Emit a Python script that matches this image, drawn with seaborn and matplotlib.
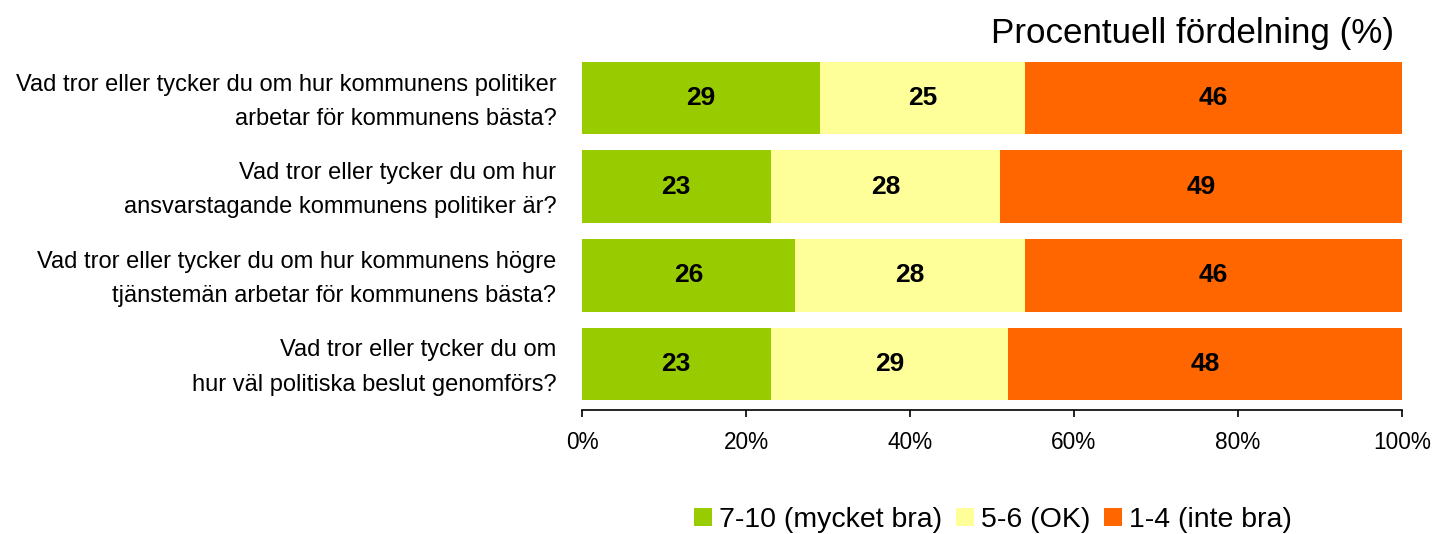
import matplotlib
matplotlib.use("Agg")
import matplotlib.pyplot as plt
from matplotlib.patches import Patch
from matplotlib.ticker import FuncFormatter
from matplotlib.transforms import ScaledTranslation
import seaborn as sns
import pandas as pd

sns.set_theme(style="white")
plt.rcParams["font.family"] = ["Liberation Sans", "DejaVu Sans"]
plt.rcParams["text.color"] = "black"

questions = [
    "Vad tror eller tycker du om hur kommunens politiker\narbetar för kommunens bästa?",
    "Vad tror eller tycker du om hur\nansvarstagande kommunens politiker är?",
    "Vad tror eller tycker du om hur kommunens högre\ntjänstemän arbetar för kommunens bästa?",
    "Vad tror eller tycker du om\nhur väl politiska beslut genomförs?",
]
series_names = ["7-10 (mycket bra)", "5-6 (OK)", "1-4 (inte bra)"]
very_good = [29, 23, 26, 23]
ok = [25, 28, 28, 29]
not_good = [46, 49, 46, 48]
colors = ["#99CC00", "#FFFF99", "#FF6600"]
x_ticks = [0, 20, 40, 60, 80, 100]
title = "Procentuell fördelning (%)"

df = pd.DataFrame({
    "question": questions,
    series_names[0]: very_good,
    series_names[1]: ok,
    series_names[2]: not_good,
})
# cumulative ends of each stacked segment
df["end0"] = df[series_names[0]]
df["end1"] = df["end0"] + df[series_names[1]]
df["end2"] = df["end1"] + df[series_names[2]]

W, H = 1436, 534
fig = plt.figure(figsize=(W / 100, H / 100), dpi=100)
ax = fig.add_axes([582 / W, (H - 410) / H, 820 / W, 358 / H])

# draw from the longest cumulative bar to the shortest so each segment shows
for end_col, color in zip(["end2", "end1", "end0"], colors[::-1]):
    sns.barplot(data=df, x=end_col, y="question", color=color, orient="h",
                width=0.82, saturation=1, linewidth=0, ax=ax, order=questions)

# segment value labels
starts = [0] * len(questions)
for name in series_names:
    for i, v in enumerate(df[name]):
        ax.text(starts[i] + v / 2, i, f"{v}", ha="center", va="center",
                fontsize=19, fontweight="bold", color="black")
        starts[i] += v

ax.set_xlim(0, 100)
ax.set_ylim(3.52, -0.52)
ax.set_xticks(x_ticks)
ax.xaxis.set_major_formatter(FuncFormatter(lambda v, p: f"{v:.0f}%"))
ax.set_xlabel("")
ax.set_ylabel("")
for s in ["top", "right", "left"]:
    ax.spines[s].set_visible(False)
ax.spines["bottom"].set_color("black")
ax.spines["bottom"].set_linewidth(1.2)
ax.tick_params(axis="x", bottom=True, direction="out", length=5, width=1.2,
               color="black", labelsize=16.3, pad=10, labelcolor="black")
ax.tick_params(axis="y", left=False, labelsize=17, pad=12.5, labelcolor="black")
# nudge the two-line question labels slightly upward
lift = ScaledTranslation(0, 5 / 100, fig.dpi_scale_trans)
for lbl in ax.get_yticklabels():
    lbl.set_linespacing(1.72)
    lbl.set_horizontalalignment("right")
    lbl.set_transform(lbl.get_transform() + lift)

fig.text(1394 / W, (H - 33) / H, title, ha="right", va="center",
         fontsize=25.2, color="black")

handles = [Patch(facecolor=c, edgecolor="none", label=n)
           for n, c in zip(series_names, colors)]
fig.legend(handles=handles, loc="center", bbox_to_anchor=(993 / W, (H - 520) / H),
           ncol=3, frameon=False, fontsize=20.5, handlelength=0.62, handleheight=0.6,
           handletextpad=0.25, columnspacing=0.5, borderaxespad=0, borderpad=0,
           labelcolor="black")

fig.savefig("out.png", dpi=100, facecolor="white")
